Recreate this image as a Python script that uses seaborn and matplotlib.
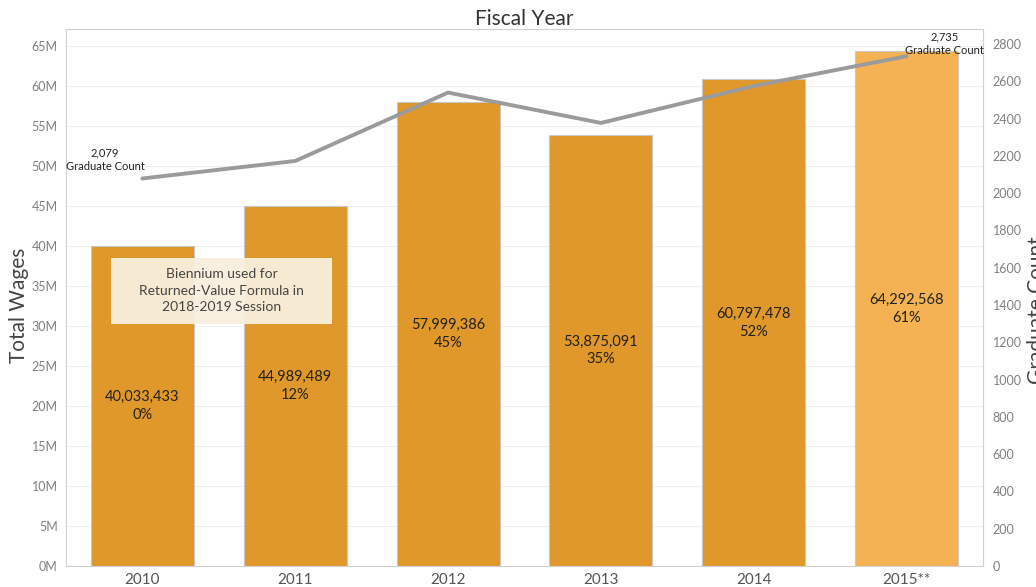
import numpy as np
import pandas as pd
import matplotlib
matplotlib.use("Agg")
import matplotlib.pyplot as plt
from matplotlib.patches import Rectangle
import seaborn as sns

years = ["2010", "2011", "2012", "2013", "2014", "2015**"]
wages = [40033433, 44989489, 57999386, 53875091, 60797478, 64292568]
pct = ["0%", "12%", "45%", "35%", "52%", "61%"]
grads = [2079, 2173, 2540, 2377, 2575, 2735]
bar_colors = ["#E0982A", "#E0982A", "#E0982A", "#E0982A", "#E0982A", "#F4B253"]
left_ticks = [0, 5, 10, 15, 20, 25, 30, 35, 40, 45, 50, 55, 60, 65]
right_ticks = [0, 200, 400, 600, 800, 1000, 1200, 1400, 1600, 1800, 2000, 2200, 2400, 2600, 2800]

sns.set_theme(style="white")
plt.rcParams["font.family"] = ["Lato", "DejaVu Sans"]

df = pd.DataFrame({"year": years, "wages": wages})

W, H = 1036, 587
fig = plt.figure(figsize=(W / 100, H / 100), dpi=100)
ax = fig.add_axes([66 / W, 1 - 566 / H, (983 - 66) / W, (566 - 29) / H])

sns.barplot(data=df, x="year", y="wages", hue="year", palette=bar_colors,
            width=0.675, edgecolor="#C8C8C8", linewidth=0.8, legend=False,
            saturation=1, ax=ax, zorder=2)
ax.set_ylim(0, 67.1e6)
ax.set_xlim(-0.5, len(years) - 0.5)
ax.set_yticks([t * 1e6 for t in left_ticks])
ax.set_yticklabels([f"{t}M" for t in left_ticks], fontsize=9, color="#808080")
ax.yaxis.grid(True, color="#F0F0F0", linewidth=0.8, zorder=0)
ax.set_axisbelow(True)
ax.tick_params(axis="x", labelsize=11, colors="#555555", length=0, pad=5)
ax.tick_params(axis="y", length=0, pad=6)
ax.set_xlabel("")
ax.set_ylabel("Total Wages", fontsize=15, color="#444444")
ax.yaxis.set_label_coords((29 - 66) / 917, 0.485)
ax.set_title("Fiscal Year", fontsize=15, color="#333333", pad=3)
for side in ["top", "right", "left", "bottom"]:
    ax.spines[side].set_color("#D0D0D0")
    ax.spines[side].set_linewidth(0.8)
ax.spines["right"].set_visible(False)

for i, (w, p) in enumerate(zip(wages, pct)):
    ax.text(i, w / 2, f"{w:,}\n{p}", ha="center", va="center", fontsize=10.5,
            color="#222222", linespacing=1.35, zorder=5)

# annotation box
ax.add_patch(Rectangle((-0.2055, 30.25e6), 1.4463, 8.25e6, facecolor="#F9EFDD",
                       edgecolor="none", alpha=0.95, zorder=6))
ax.text(0.5175, 34.4e6, "Biennium used for\nReturned-Value Formula in\n2018-2019 Session",
        ha="center", va="center", fontsize=10, color="#444444", linespacing=1.45, zorder=7)

ax2 = ax.twinx()
ax2.set_position(ax.get_position())
sns.lineplot(x=np.arange(len(years)), y=grads, ax=ax2, color="#9B9B9B",
             linewidth=2.8, zorder=4)
ax2.set_ylim(0, 2881)
ax2.set_yticks(right_ticks)
ax2.set_yticklabels([str(t) for t in right_ticks], fontsize=9, color="#808080")
ax2.tick_params(axis="y", length=0, pad=7)
ax2.set_ylabel("")
for side in ["top", "left", "bottom"]:
    ax2.spines[side].set_visible(False)
ax2.spines["right"].set_color("#D0D0D0")
ax2.spines["right"].set_linewidth(0.8)

ax2.annotate(f"{grads[0]:,}\nGraduate Count", xy=(0, grads[0]), xytext=(-0.245, 2178),
             ha="center", va="center", fontsize=8, color="#222222", linespacing=1.3)
ax2.annotate(f"{grads[-1]:,}\nGraduate Count", xy=(5, grads[-1]), xytext=(5.25, 2800),
             ha="center", va="center", fontsize=8, color="#222222", linespacing=1.3)

fig.text(1027 / W, 1 - 310 / H, "Graduate Count", rotation=90, ha="left", va="center",
         fontsize=15, color="#444444")

fig.savefig("out.png", dpi=100)
